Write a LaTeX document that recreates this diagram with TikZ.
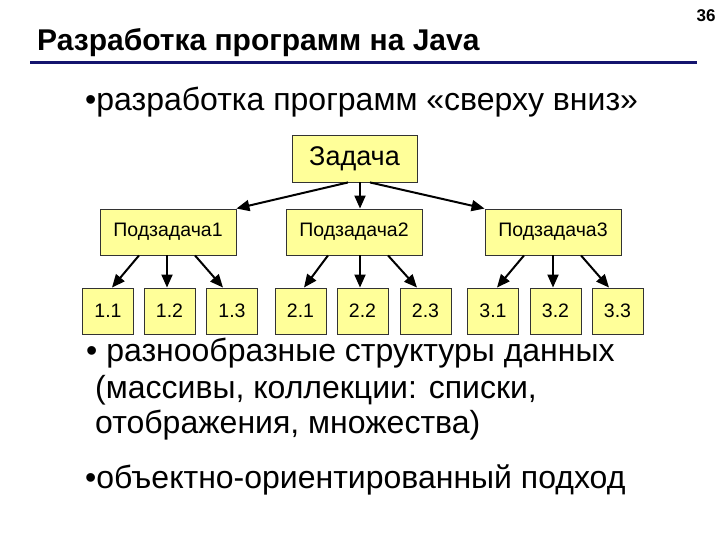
\documentclass[tikz,border=0pt]{standalone}
\usepackage{fontspec}
\setmainfont{Liberation Sans}
\usetikzlibrary{arrows.meta}
\definecolor{boxfill}{HTML}{FFFF99}
\definecolor{navy}{HTML}{14146E}
\begin{document}
\begin{tikzpicture}[x=1pt,y=-1pt,
  box/.style={draw=black!80,line width=0.9pt,fill=boxfill,inner sep=0pt,anchor=center},
  big/.style={box,minimum width=125pt,minimum height=47pt,font=\fontsize{27}{30}\selectfont},
  mid/.style={box,minimum width=136pt,minimum height=46pt,font=\fontsize{19.5}{22}\selectfont},
  leaf/.style={box,minimum width=51pt,minimum height=46pt,font=\fontsize{19.5}{22}\selectfont},
  arr/.style={line width=2pt,-{Triangle[length=13pt,width=11pt]}},
  body/.style={anchor=base west,inner sep=0pt,font=\fontsize{32}{36}\selectfont}]
\useasboundingbox (0,0) rectangle (720,540);
% title
\node[anchor=base west,inner sep=0pt,font=\bfseries\fontsize{30}{34}\selectfont] (title) at (37,51) {Разработка программ на Java};
\node[anchor=center,inner sep=0pt,font=\bfseries\fontsize{17}{19}\selectfont] (num) at (706,16) {36};
\draw[navy,line width=2.5pt] (30,62.5) -- (697,62.5);
% bullets
\node[body] (b1) at (85,111) {•разработка программ «сверху вниз»};
\node[body] (b2) at (86,361) {• разнообразные структуры данных};
\node[body] (b3) at (95,398) {(массивы, коллекции: списки,};
\node[body] (b4) at (95,433) {отображения, множества)};
\node[body] (b5) at (85,488) {•объектно-ориентированный подход};
% tree
\node[big] (z) at (354.5,158.5) {Задача};
\node[mid] (p1) at (168,232) {Подзадача1};
\node[mid] (p2) at (354,232) {Подзадача2};
\node[mid] (p3) at (553,232) {Подзадача3};
\node[leaf] (l11) at (108,311) {1.1};
\node[leaf] (l12) at (169.5,311) {1.2};
\node[leaf] (l13) at (232,311) {1.3};
\node[leaf] (l21) at (300.5,311) {2.1};
\node[leaf] (l22) at (362.5,311) {2.2};
\node[leaf] (l23) at (425.5,311) {2.3};
\node[leaf] (l31) at (493,311) {3.1};
\node[leaf] (l32) at (555.5,311) {3.2};
\node[leaf] (l33) at (617.5,311) {3.3};
\draw[arr] ([xshift=-6.5]z.south) -- (p1.north east);
\draw[arr] ([xshift=5.5]z.south) -- ([xshift=6]p2.north);
\draw[arr] ([xshift=15.5]z.south) -- (p3.north west);
\draw[arr] ([xshift=-29]p1.south) -- ([xshift=4]l11.north);
\draw[arr] ([xshift=-1]p1.south) -- ([xshift=-2.5]l12.north);
\draw[arr] ([xshift=27]p1.south) -- ([xshift=-9]l13.north);
\draw[arr] ([xshift=-26]p2.south) -- ([xshift=3.5]l21.north);
\draw[arr] ([xshift=6]p2.south) -- ([xshift=-2.5]l22.north);
\draw[arr] ([xshift=34]p2.south) -- ([xshift=-8.5]l23.north);
\draw[arr] ([xshift=-29]p3.south) -- ([xshift=4]l31.north);
\draw[arr] ([xshift=0]p3.south) -- ([xshift=-2.5]l32.north);
\draw[arr] ([xshift=28]p3.south) -- ([xshift=-8.5]l33.north);
\end{tikzpicture}
\end{document}
